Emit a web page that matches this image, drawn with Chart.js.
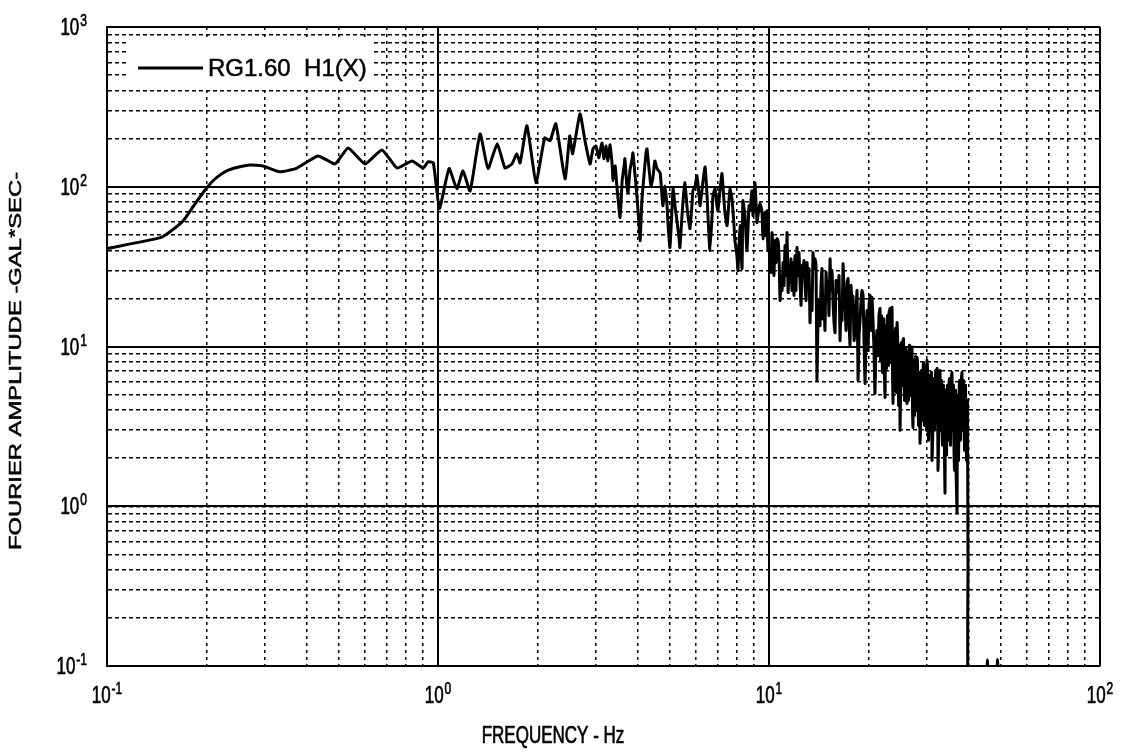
<!DOCTYPE html>
<html>
<head>
<meta charset="utf-8">
<title>Fourier amplitude spectrum</title>
<script src="https://cdn.jsdelivr.net/npm/chart.js@4.4.1/dist/chart.umd.min.js"></script>
<style>
    html, body { margin: 0; padding: 0; background: #fff; }
    #wrap { width: 1122px; height: 752px; }
</style>
</head>
<body>
<div id="wrap"><canvas id="spectrum" width="1122" height="752"></canvas></div>
<script>
// values (Hz, gal*sec)
const freqHz = [
    0.100, 0.145, 0.155, 0.170, 0.182, 0.195, 0.209, 0.224, 0.240, 0.270,
    0.296, 0.333, 0.375, 0.434, 0.489, 0.535, 0.602, 0.677, 0.752, 0.834,
    0.902, 0.933, 0.968, 1.01, 1.08, 1.14, 1.19, 1.25, 1.34, 1.416,
    1.51, 1.594, 1.673, 1.73, 1.77, 1.857, 1.977, 2.10, 2.18, 2.27,
    2.42, 2.50, 2.55, 2.685, 2.78, 2.88, 2.94, 3.00, 3.06,
    3.09, 3.13, 3.17, 3.22, 3.26, 3.31, 3.36, 3.38, 3.43, 3.47,
    3.55, 3.60, 3.65, 3.67, 3.72, 3.75, 3.80, 3.86, 3.88, 3.94,
    3.99, 4.05, 4.08, 4.13, 4.19, 4.25, 4.28, 4.34, 4.40, 4.46,
    4.52, 4.59, 4.69, 4.75, 4.78, 4.85, 4.92, 4.95, 5.02, 5.09,
    5.13, 5.20, 5.27, 5.35, 5.38, 5.46, 5.50, 5.57, 5.65, 5.69,
    5.77, 5.85, 5.89, 5.98, 6.06, 6.15, 6.19, 6.27, 6.32, 6.41,
    6.50, 6.54, 6.63, 6.73, 6.77, 6.87, 6.96, 7.01, 7.11, 7.21,
    7.31, 7.36, 7.47, 7.57, 7.62, 7.73, 7.84, 7.89, 8.00, 8.06,
    8.17, 8.29, 8.34, 8.46, 8.58, 8.70, 8.76, 8.88, 8.95, 9.07,
    9.20, 9.26, 9.39, 9.52, 9.59, 9.72, 9.79, 9.86, 9.93, 10.07,
    10.14, 10.21, 10.28, 10.35, 10.43, 10.50, 10.57, 10.65, 10.72, 10.80,
    10.88, 10.95, 11.03, 11.10, 11.18, 11.26, 11.34, 11.42, 11.50, 11.57,
    11.65, 11.73, 11.81, 11.90, 11.98, 12.06, 12.15, 12.23, 12.32, 12.41,
    12.50, 12.58, 12.67, 12.76, 12.85, 12.94, 13.03, 13.12, 13.21, 13.30,
    13.39, 13.49, 13.58, 13.68, 13.77, 13.87, 13.96, 14.06, 14.16, 14.26,
    14.36, 14.46, 14.56, 14.66, 14.76, 14.87, 14.97, 15.08, 15.18, 15.29,
    15.40, 15.50, 15.61, 15.72, 15.83, 15.94, 16.05, 16.17, 16.28,
    16.39, 16.50, 16.62, 16.74, 16.85, 16.97, 17.09, 17.21, 17.33, 17.45,
    17.57, 17.69, 17.82, 17.94, 18.07, 18.19, 18.32, 18.45, 18.58, 18.71,
    18.84, 18.97, 19.10, 19.24, 19.37, 19.51, 19.64, 19.78, 19.92, 20.06,
    20.19, 20.33, 20.47, 20.62, 20.76, 20.90, 21.05, 21.20, 21.35, 21.49,
    21.65, 21.73, 21.80, 21.88, 21.95, 22.03, 22.11, 22.19, 22.26, 22.34,
    22.42, 22.50, 22.57, 22.65, 22.73, 22.81, 22.97, 23.05, 23.13, 23.21,
    23.29, 23.37, 23.45, 23.54, 23.62, 23.70, 23.78, 23.86, 23.94, 24.03,
    24.11, 24.20, 24.28, 24.37, 24.45, 24.54, 24.63, 24.71, 24.80, 24.88,
    24.97, 25.05, 25.14, 25.23, 25.32, 25.40, 25.49, 25.58, 25.67, 25.76,
    25.85, 25.94, 26.03, 26.12, 26.21, 26.30, 26.39, 26.49, 26.58, 26.67,
    26.76, 26.86, 26.95, 27.04, 27.13, 27.23, 27.33, 27.42, 27.52, 27.61,
    27.71, 27.81, 27.91, 28.00, 28.10, 28.20, 28.30, 28.39, 28.49, 28.59,
    28.69, 28.79, 28.89, 28.99, 29.09, 29.19, 29.29, 29.40, 29.50, 29.60,
    29.70, 29.81, 29.91, 30.02, 30.12, 30.23, 30.34, 30.44, 30.55, 30.65,
    30.76, 30.86, 30.97, 31.08, 31.19, 31.30, 31.41, 31.51, 31.62, 31.74,
    31.85, 31.96, 32.07, 32.18, 32.29, 32.40, 32.51, 32.63, 32.74, 32.86,
    32.97, 33.09, 33.21, 33.32, 33.44, 33.55, 33.67, 33.79, 33.91, 34.02,
    34.14, 34.26, 34.38, 34.50, 34.62, 34.74, 34.86, 34.98, 35.10, 35.23,
    35.35, 35.48, 35.60, 35.72, 35.84, 35.97, 36.10, 36.22, 36.35, 36.48,
    36.61, 36.73, 36.86, 36.99, 37.12, 37.25, 37.38, 37.51, 37.64, 37.76,
    37.89, 38.02, 38.15, 38.29, 38.42, 38.56, 38.69, 38.83, 38.97, 39.10,
    39.24, 39.37, 39.51, 39.64, 39.78, 39.92, 40.2,
    45.0, 45.7, 46.4, 48.4, 49.0, 49.7
];
const amplitude = [
    41, 48, 52.3, 61.3, 75, 91.7, 109, 122, 130, 137,
    135, 124, 131, 156, 139, 175, 139, 170, 131, 145,
    131, 143, 141, 73, 130, 97, 126, 94, 214, 130,
    186, 131, 139, 161, 141, 241, 106, 202, 194, 248,
    112, 208, 161, 286, 194, 139, 173, 180, 152,
    168, 188, 150, 180, 145, 183, 135, 109, 135, 101,
    64.0, 109, 135, 150, 101, 91.7, 126, 150, 163, 117,
    87.8, 57.1, 46.0, 81.8, 117, 163, 173, 130, 101, 114,
    145, 130, 122, 87.8, 76.1, 101, 76.1, 59.6, 41.6, 70.8,
    97.1, 76.1, 61.3, 47.3, 41.6, 65.9, 81.8, 106, 76.1, 65.9,
    54.7, 76.1, 94.4, 101, 117, 87.8, 76.1, 94.4, 109, 133,
    87.8, 65.9, 39.8, 65.9, 87.8, 97.1, 76.1, 70.8, 94.4, 121,
    81.8, 68.8, 57.1, 81.8, 97.1, 84.1, 57.1, 46.0, 37.0, 29.9,
    57.1, 30.7, 81.8, 65.9, 39.8, 76.1, 70.8, 94.4, 65.9, 106,
    59.6, 65.9, 78.3, 70.8, 47.3, 68.8, 49.4, 70.8, 39.8, 41.6,
    29.1, 51.6, 39.8, 27.8, 46.0, 33.5, 47.3, 46.0, 37.0, 19.4,
    27.8, 22.4, 33.5, 24.1, 42.8, 27.8, 51.6, 21.8, 29.9, 25.2,
    35.4, 22.4, 33.5, 20.9, 37.0, 22.4, 41.6, 27.8, 38.7, 25.2,
    18.1, 32.1, 30.7, 34.5, 24.1, 19.4, 33.5, 24.1, 30.7, 14.1,
    22.4, 16.8, 38.7, 30.7, 35.4, 32.1, 6.13, 14.5, 19.4, 13.5,
    24.1, 30.7, 14.9, 19.4, 12.6, 29.1, 22.4, 25.2, 15.6, 35.4,
    22.4, 29.9, 18.8, 14.1, 12.2, 25.9, 21.8, 23.1, 27.8,
    10.9, 18.1, 14.5, 33.0, 22.4, 18.8, 12.6, 25.2, 26.6, 14.5,
    10.2, 24.1, 18.8, 20.6, 10.9, 12.2, 16.8, 22.4, 6.13, 11.7,
    14.5, 19.4, 22.4, 20.9, 10.9, 5.87, 11.7, 16.8, 9.44, 18.1,
    20.9, 12.6, 20.3, 14.5, 9.44, 5.09, 10.2, 12.6, 8.79, 15.6,
    17.3, 8.18, 10.9, 15.6, 9.17, 6.88, 14.5, 14.9, 7.61, 6.13,
    4.80, 13.5, 9.44, 7.29, 14.1, 15.6, 7.61, 16.3, 16.8, 17.3,
    7.95, 12.6, 14.9, 17.6, 6.59, 4.41, 12.2, 8.18, 5.31, 10.9,
    13.0, 7.08, 5.16, 14.1, 11.7, 8.79, 4.28, 4.94, 10.2, 2.99,
    4.94, 7.08, 10.6, 10.2, 5.71, 10.9, 11.2, 7.61, 4.60, 5.96,
    9.77, 9.44, 5.31, 4.41, 9.17, 6.59, 4.60, 8.79, 10.2, 9.44,
    4.94, 6.88, 9.44, 9.91, 3.98, 3.12, 8.18, 4.94, 3.71, 7.08,
    8.66, 5.71, 3.98, 8.54, 7.95, 4.60, 3.21, 3.45, 6.88, 2.48,
    2.99, 3.98, 7.08, 4.94, 3.45, 6.59, 7.95, 7.61, 3.21, 4.73,
    6.88, 3.98, 2.99, 8.18, 7.29, 5.71, 2.59, 3.45, 6.59, 4.60,
    2.99, 6.13, 6.88, 1.94, 2.41, 3.45, 6.31, 5.31, 2.99, 3.98,
    7.08, 6.59, 3.45, 7.29, 6.59, 1.68, 2.24, 3.71, 6.88, 7.08,
    2.99, 4.94, 6.13, 3.45, 2.41, 2.59, 5.71, 4.60, 1.94, 1.21,
    5.31, 2.59, 2.09, 3.45, 5.71, 4.94, 2.59, 5.71, 6.31, 6.13,
    2.41, 3.98, 6.50, 6.88, 2.99, 4.28, 5.71, 2.24, 1.68, 3.45,
    5.31, 1.68, 1.26, 0.91, 4.94, 2.59, 1.94, 4.60, 6.13, 5.71,
    2.59, 4.28, 6.31, 6.88, 2.99, 4.94, 6.13, 3.45, 2.24, 5.09,
    5.71, 2.99, 1.94, 2.41, 4.60, 0.46, 0.05,
    0.05, 0.109, 0.05, 0.05, 0.11, 0.05
];

const xDecades = [-1, 0, 1, 2];
const yDecades = [-1, 0, 1, 2, 3];
const minorSteps = [1, 2, 3, 4, 5, 6, 7, 8, 9];

const seriesLabel = "RG1.60  H1(X)";
const xTitle = "FREQUENCY - Hz";
const yTitle = "FOURIER AMPLITUDE -GAL*SEC-";

const FONT = "'Liberation Sans', Arial, sans-serif";
const STRETCH = 1.4; // the scanned axis lettering is taller than it is wide

function decadeTicks(decades) {
    return decades.map(d => ({ value: Math.pow(10, d) }));
}

function minorTicks(decades) {
    const ticks = [];
    decades.slice(0, -1).forEach(d => {
        minorSteps.forEach(m => ticks.push({ value: m * Math.pow(10, d) }));
    });
    ticks.push({ value: Math.pow(10, decades[decades.length - 1]) });
    return ticks;
}

// fill plus a hairline stroke, the print is a little heavy
function heavyText(ctx, text, x, y) {
    ctx.fillText(text, x, y);
    ctx.lineWidth = 0.5;
    ctx.strokeStyle = "#000";
    ctx.strokeText(text, x, y);
}

function tallText(ctx, text, x, y) {
    ctx.save();
    ctx.translate(x, y);
    ctx.scale(1, STRETCH);
    heavyText(ctx, text, 0, 0);
    ctx.restore();
}

function drawPower(ctx, exp, x, baseY, align) {
    const baseFont = `17px ${FONT}`;
    const expFont = `12px ${FONT}`;
    ctx.font = baseFont;
    const wb = ctx.measureText("10").width;
    ctx.font = expFont;
    const we = ctx.measureText(String(exp)).width;
    const total = wb + we + 1;
    const left = align === "center" ? x - total / 2 : x - total;
    ctx.textAlign = "left";
    ctx.textBaseline = "alphabetic";
    ctx.font = baseFont;
    tallText(ctx, "10", left, baseY);
    ctx.font = expFont;
    tallText(ctx, String(exp), left + wb + 1, baseY - 9);
}

// decade labels as 10 with a raised exponent, plus the axis titles
const axisText = {
    id: "axisText",
    afterDraw(chart) {
        const { ctx, scales: { x, y } } = chart;
        ctx.save();
        ctx.fillStyle = "#000";
        xDecades.forEach(d => {
            drawPower(ctx, d, x.getPixelForValue(Math.pow(10, d)), x.top + 37, "center");
        });
        yDecades.forEach(d => {
            drawPower(ctx, d, y.right - 20, y.getPixelForValue(Math.pow(10, d)) + 8, "right");
        });

        ctx.font = `17px ${FONT}`;
        ctx.textAlign = "center";
        ctx.textBaseline = "middle";
        tallText(ctx, xTitle, 553, 736);

        ctx.translate(16, 361);
        ctx.rotate(-Math.PI / 2);
        ctx.scale(STRETCH, 1);
        ctx.font = `17px ${FONT}`;
        heavyText(ctx, yTitle, 0, 0);
        ctx.restore();
    }
};

// legend drawn inside the plot on a white patch
const insideLegend = {
    id: "insideLegend",
    afterDatasetsDraw(chart) {
        const { ctx, chartArea } = chart;
        const ds = chart.data.datasets[0];
        const left = chartArea.left + 19;
        const top = chartArea.top + 14;
        ctx.save();
        ctx.fillStyle = "#fff";
        ctx.fillRect(left, top, 248, 49);
        ctx.strokeStyle = ds.borderColor;
        ctx.lineWidth = ds.borderWidth;
        ctx.beginPath();
        ctx.moveTo(left + 12, top + 27);
        ctx.lineTo(left + 77, top + 27);
        ctx.stroke();
        ctx.fillStyle = "#000";
        ctx.font = `24px ${FONT}`;
        ctx.textBaseline = "middle";
        heavyText(ctx, ds.label, left + 82, top + 28);
        ctx.restore();
    }
};

new Chart(document.getElementById("spectrum"), {
    type: "line",
    data: {
        datasets: [{
            label: seriesLabel,
            data: freqHz.map((f, i) => ({ x: f, y: amplitude[i] })),
            borderColor: "#000",
            borderWidth: 3,
            pointRadius: 0,
            tension: 0.15,
            fill: false
        }]
    },
    options: {
        responsive: false,
        animation: false,
        devicePixelRatio: 1,
        layout: { padding: { top: 27, right: 22, left: 0, bottom: 0 } },
        plugins: {
            legend: { display: false },
            tooltip: { enabled: false }
        },
        scales: {
            x: {
                type: "logarithmic",
                position: "bottom",
                min: 0.1,
                max: 100,
                afterBuildTicks: s => { s.ticks = minorTicks(xDecades); },
                afterFit: s => { s.height = 86; },
                ticks: { display: false },
                grid: { color: "#000", lineWidth: 1.5, drawTicks: false },
                border: { display: true, color: "#000", width: 2, dash: [3, 4] }
            },
            y: {
                type: "logarithmic",
                position: "left",
                min: 0.1,
                max: 1000,
                afterBuildTicks: s => { s.ticks = minorTicks(yDecades); },
                afterFit: s => { s.width = 107; },
                ticks: { display: false },
                grid: { color: "#000", lineWidth: 1.5, drawTicks: false },
                border: { display: true, color: "#000", width: 2, dash: [4, 3] }
            },
            xMajor: {
                type: "logarithmic",
                position: "top",
                min: 0.1,
                max: 100,
                afterBuildTicks: s => { s.ticks = decadeTicks(xDecades); },
                afterFit: s => { s.height = 0; },
                ticks: { display: false },
                grid: { color: "#000", lineWidth: 2, drawTicks: false },
                border: { display: false }
            },
            yMajor: {
                type: "logarithmic",
                position: "right",
                min: 0.1,
                max: 1000,
                afterBuildTicks: s => { s.ticks = decadeTicks(yDecades); },
                afterFit: s => { s.width = 0; },
                ticks: { display: false },
                grid: { color: "#000", lineWidth: 2, drawTicks: false },
                border: { display: false }
            }
        }
    },
    plugins: [axisText, insideLegend]
});
</script>
</body>
</html>
